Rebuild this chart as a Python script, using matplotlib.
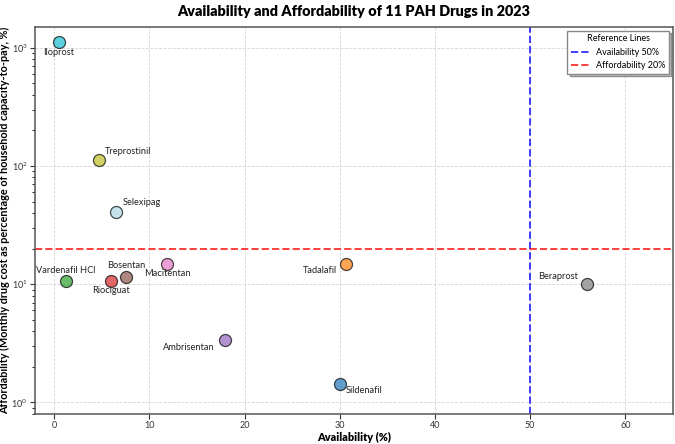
import matplotlib.pyplot as plt
from matplotlib.patches import Shadow

plt.rcParams['font.family'] = ['Lato', 'DejaVu Sans']

# Data
drugs = ["Iloprost", "Treprostinil", "Selexipag", "Vardenafil HCl", "Riociguat",
         "Bosentan", "Macitentan", "Ambrisentan", "Tadalafil", "Sildenafil", "Beraprost"]
availability = [0.5, 4.7, 6.5, 1.2, 6.0, 7.6, 11.9, 17.9, 30.7, 30.0, 56.0]
affordability = [1120, 113, 41, 10.7, 10.6, 11.6, 14.8, 3.35, 14.8, 1.43, 10.1]
colors = ["#17becf", "#bcbd22", "#add8e6", "#2ca02c", "#d62728",
          "#8c564b", "#e377c2", "#9467bd", "#ff7f0e", "#1f77b4", "#7f7f7f"]

# label placement: (dx, dy) in points, horizontal alignment
label_pos = {
    "Iloprost": ((0, -7.5), "center"),
    "Treprostinil": ((4.5, 6), "left"),
    "Selexipag": ((4.5, 6.5), "left"),
    "Vardenafil HCl": ((0, 7.5), "center"),
    "Riociguat": ((0, -7), "center"),
    "Bosentan": ((0, 8), "center"),
    "Macitentan": ((0, -7), "center"),
    "Ambrisentan": ((-7, -5), "right"),
    "Tadalafil": ((-7, -4.5), "right"),
    "Sildenafil": ((4.5, -5), "left"),
    "Beraprost": ((-6.5, 5.5), "right"),
}

fig = plt.figure(figsize=(6.75, 4.44), dpi=100)
ax = fig.add_axes([0.052, 0.068, 0.945, 0.871])

for name, x, y, c in zip(drugs, availability, affordability, colors):
    ax.scatter(x, y, s=75, color=c, alpha=0.7, edgecolors="black", linewidths=0.9, zorder=3)
    (dx, dy), ha = label_pos[name]
    ax.annotate(name, (x, y), xytext=(dx, dy), textcoords="offset points",
                ha=ha, va="center", fontsize=6.7, color="#222222")

ax.axvline(50, color="blue", linestyle="--", linewidth=1.4, alpha=0.75, label="Availability 50%")
ax.axhline(20, color="red", linestyle="--", linewidth=1.4, alpha=0.75, label="Affordability 20%")

ax.set_yscale("log")
ax.set_xlim(-2, 65)
ax.set_ylim(0.8, 1500)
ax.grid(True, linestyle="--", color="#cccccc", linewidth=0.6, alpha=0.8)
ax.tick_params(labelsize=6.5, colors="#333333", pad=2)
for s in ax.spines.values():
    s.set_color("#555555")
    s.set_linewidth(1.1)

ax.set_title("Availability and Affordability of 11 PAH Drugs in 2023",
             fontsize=10.4, fontweight="heavy", pad=8)
ax.set_xlabel("Availability (%)", fontsize=7.8, fontweight="heavy", labelpad=1)
ax.set_ylabel("Affordability (Monthly drug cost as percentage of household capacity-to-pay, %)",
              fontsize=7.8, fontweight="bold", labelpad=1)

leg = ax.legend(title="Reference Lines", loc="upper right", fontsize=6.5,
                title_fontsize=6.5, fancybox=False, framealpha=1,
                borderaxespad=0.4)
frame = leg.get_frame()
frame.set_edgecolor("#888888")
fig.canvas.draw()
sh = Shadow(frame, 1.5, -1.5, facecolor="#aaaaaa", alpha=0.6)
sh.set_zorder(leg.get_zorder() - 0.1)
ax.add_artist(sh)

fig.savefig("out.png", dpi=100)
